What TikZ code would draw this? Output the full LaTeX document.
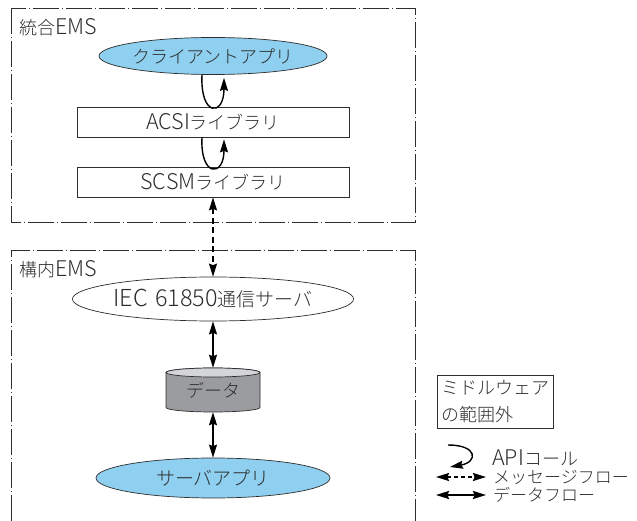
\documentclass[tikz,border=0pt]{standalone}
\usepackage{fontspec}
\setmainfont{Noto Sans CJK JP Light}
\newfontfamily\lat[Scale=1.2]{Noto Sans CJK JP Light}
\usetikzlibrary{arrows.meta,shapes.geometric,calc}

\definecolor{appblue}{RGB}{143,208,240}
\definecolor{cylbody}{RGB}{155,156,160}
\definecolor{cyltop}{RGB}{212,213,217}
\definecolor{ink}{RGB}{45,45,45}

\begin{document}
\begin{tikzpicture}[x=1pt,y=-1pt,
  font=\fontsize{18}{24}\selectfont,
  every node/.style={text=ink},
  frame/.style={draw=ink, line width=0.7pt, dash pattern=on 26pt off 3pt on 1pt off 3pt},
  app/.style={ellipse, draw=ink, line width=0.7pt, fill=appblue, inner sep=0pt},
  libbox/.style={rectangle, draw=ink, line width=0.7pt, minimum width=272pt, minimum height=30pt, inner sep=0pt},
  tip/.tip={Stealth[length=13pt,width=8pt,inset=1.5pt]},
  call/.style={draw=black, line width=1.4pt, -tip},
  msg/.style={draw=black, line width=1.4pt, tip-tip, dash pattern=on 6pt off 3.5pt},
  flow/.style={draw=black, line width=1.4pt, tip-tip},
]
\useasboundingbox (0,0) rectangle (637,521);

% system frames
\draw[frame] (11,8) rectangle (415,222);
\draw[frame] (11,521) -- (11,250) -- (415,250) -- (415,521);
\node[anchor=west, inner sep=0pt] (lblTop) at (19,27) {統合{\lat EMS}};
\node[anchor=west, inner sep=0pt] (lblBot) at (19,269) {構内{\lat EMS}};

% integrated EMS stack
\node[app, minimum width=223pt, minimum height=37pt] (client) at (213,56) {クライアントアプリ};
\node[libbox] (acsi) at (213,122) {{\lat ACSI}ライブラリ};
\node[libbox] (scsm) at (213,182) {{\lat SCSM}ライブラリ};

% API calls
\draw[call] ($(client.south)+(-11,0)$) .. controls +(-2,42) and +(0,39) .. ($(client.south)+(11,3)$);
\draw[call] ($(acsi.south)+(-11,0)$) .. controls +(-2,40) and +(0,38) .. ($(acsi.south)+(11,2)$);

% premises EMS stack
\node[ellipse, draw=ink, line width=0.7pt, fill=white, inner sep=0pt,
      minimum width=241pt, minimum height=44pt, font=\fontsize{19}{24}\selectfont] (iec) at (213,299)
      {{\lat\fontsize{19.5}{24}\selectfont IEC\hspace{7pt}61850}通信サーバ};

% data store (cylinder)
\fill[cylbody, draw=ink, line width=0.7pt] (166,372.5) -- (166,407.5)
  arc[start angle=180, end angle=0, x radius=47, y radius=4.5] -- (260,372.5)
  arc[start angle=0, end angle=-180, x radius=47, y radius=4.5] -- cycle;
\filldraw[fill=cyltop, draw=ink, line width=0.7pt] (213,372.5) ellipse [x radius=47, y radius=4.5];
\node[minimum width=94pt, minimum height=44pt, inner sep=0pt] (data) at (213,390) {\raisebox{-3pt}{データ}};

\node[app, minimum width=234pt, minimum height=40pt, font=\fontsize{19}{24}\selectfont] (srv) at (213,478) {サーバアプリ};

% flows
\draw[msg] (scsm.south) -- (iec.north);
\draw[flow] (iec.south) -- (data.north);
\draw[flow] (data.south) -- (srv.north);

% legend
\node[draw=ink, line width=0.7pt, align=left, text width=108pt,
      inner xsep=4pt, inner ysep=0pt, minimum height=53pt,
      font=\fontsize{18}{27}\selectfont] (scope) at (495,401.5) {ミドルウェア\\の範囲外};

\coordinate (apiS) at (448,445);
\coordinate (apiE) at (450,467);
\draw[call] (apiS) .. controls (478,445) and (478,462) .. (apiE);
\node[anchor=west, inner sep=0pt] (apiTxt) at (492,458) {{\lat API}コール};

\coordinate (m1) at (436,477);
\coordinate (m2) at (486,477);
\draw[msg, dash pattern=on 4pt off 3pt] (m1) -- (m2);
\node[anchor=west, inner sep=0pt, font=\fontsize{17}{20}\selectfont] (msgTxt) at (493,477) {メッセージフロー};

\coordinate (d1) at (436,495);
\coordinate (d2) at (486,495);
\draw[flow] (d1) -- (d2);
\node[anchor=west, inner sep=0pt, font=\fontsize{17}{20}\selectfont] (dataTxt) at (493,495) {データフロー};
\end{tikzpicture}
\end{document}
